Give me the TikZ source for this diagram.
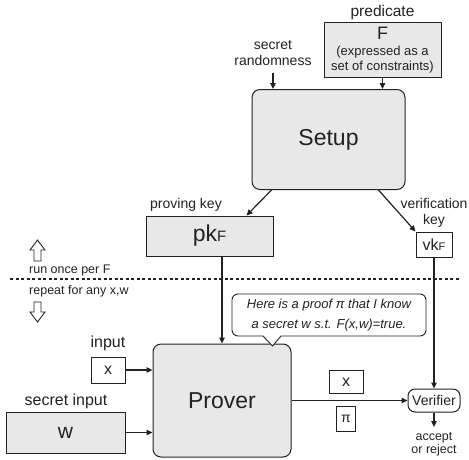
\documentclass[tikz,border=0pt]{standalone}
\usepackage{fontspec}
\setmainfont{Liberation Sans}
\usetikzlibrary{arrows.meta}
\definecolor{boxgray}{HTML}{E8E8E8}
\definecolor{ink}{HTML}{222222}
\newcommand{\fsz}[1]{\fontsize{#1}{#1}\selectfont}
\begin{document}
\begin{tikzpicture}[x=1pt,y=-1pt,
  every node/.style={text=ink, inner sep=0pt},
  graybox/.style={draw=ink, fill=boxgray, line width=1pt},
  whitebox/.style={draw=ink, fill=white, line width=1pt},
  conn/.style={draw=ink, line width=1.2pt, -{Triangle[length=6pt,width=5.5pt]}},
  lbl/.style={font=\fsz{14}},
  hollow/.style={draw=ink, fill=white, line width=0.9pt, line join=miter}]
\useasboundingbox (0,0) rectangle (469,459);

% --- top part
\node[lbl, font=\fsz{15.5}] (predlbl) at (382.5,12) {predicate};
\node[graybox, minimum width=117pt, minimum height=55pt] (Fbox) at (382.5,49.5) {};
\node[font=\fsz{18}] (Ftext) at (382.5,33) {F};
\node[font=\fsz{13}] (Fexp1) at (382.5,52) {(expressed as a};
\node[font=\fsz{13}] (Fexp2) at (382.5,67) {set of constraints)};

\node[lbl, align=center, font=\fontsize{14}{16}\selectfont] (rndlbl) at (273,53) {secret\\randomness};
\coordinate (rnd) at (273,73);

\node[graybox, rounded corners=8pt, minimum width=153pt, minimum height=100pt, font=\fsz{23}] (Setup) at (328.5,139.5) {Setup};

\draw[conn] (rnd) -- (rnd |- Setup.north);
\draw[conn] (Fbox.south) -- (Fbox.south |- Setup.north);

% --- keys
\node[graybox, minimum width=127pt, minimum height=40pt] (pk) at (209.5,236) {\fsz{23}pk\fsz{15}F};
\node[lbl] (pklbl) at (186,205) {proving key};
\node[whitebox, minimum width=36pt, minimum height=25pt] (vk) at (434,244.5) {\fsz{16}vk\fsz{11}F};
\node[lbl, align=center, font=\fontsize{14}{16}\selectfont] (vklbl) at (434,213) {verification\\key};

\draw[conn] ([xshift=20pt]Setup.south west) -- ([xshift=37pt]pk.north);
\draw[conn] ([xshift=-27pt]Setup.south east) -- (vk.north west);

% --- separator
\draw[hollow] (37.5,240) -- (45,250) -- (41,250) -- (41,261) -- (34,261) -- (34,250) -- (30,250) -- cycle;
\node[anchor=west, font=\fsz{12.5}] (runonce) at (29,270) {run once per F};
\draw[ink, line width=1.5pt, dash pattern=on 3pt off 2.5pt] (10,279) -- (459,279);
\node[anchor=west, font=\fsz{12.5}] (repeat) at (29,291) {repeat for any x,w};
\draw[hollow] (37.5,322) -- (45,312) -- (41,312) -- (41,302) -- (34,302) -- (34,312) -- (30,312) -- cycle;

% --- prover part
\node[graybox, rounded corners=8pt, minimum width=138pt, minimum height=113pt, font=\fsz{23}] (Prover) at (222,400.5) {Prover};

\node[whitebox, minimum width=34pt, minimum height=26pt, font=\fsz{16}] (xin) at (108,370) {x};
\node[lbl, font=\fsz{16}] (inputlbl) at (108,343) {input};
\node[graybox, minimum width=119pt, minimum height=41pt, font=\fsz{21}] (win) at (65.5,432.5) {w};
\node[lbl, font=\fsz{16}] (winlbl) at (66,401) {secret input};

\node[whitebox, rounded corners=7pt, minimum width=52pt, minimum height=23pt, font=\fsz{14}] (Verifier) at (434,400.5) {Verifier};
\node[whitebox, minimum width=34pt, minimum height=23pt, font=\fsz{16}] (xout) at (346,382) {x};
\node[whitebox, minimum width=19pt, minimum height=25pt, font=\fsz{14}] (piout) at (346,419) {π};

\coordinate (vout) at (434,427);
\node[align=center, font=\fontsize{12.5}{13}\selectfont, anchor=north] (result) at (434,432) {accept\\or reject};

\draw[conn] (pk.south -| Prover.north) -- (Prover.north);
\draw[conn] (vk.south) -- (Verifier.north);
\draw[conn] (xin.east) -- (xin.east -| Prover.west);
\draw[conn] (win.east) -- (win.east -| Prover.west);
\draw[conn] (Prover.east) -- (Verifier.west);
\draw[conn] (Verifier.south) -- (vout);

% --- callout
\draw[draw=ink, fill=white, line width=0.9pt] (272.5,346) -- (281,336) [rounded corners=6pt] -- (426,336) -- (426,294) -- (232,294) -- (232,336) [sharp corners] -- (263,336) -- cycle;
\node[align=center, font=\fontsize{13}{19.5}\selectfont\itshape] (callout) at (329,315) {Here is a proof π that I know\\a secret w s.t. F(x,w)=true.};
\end{tikzpicture}
\end{document}
